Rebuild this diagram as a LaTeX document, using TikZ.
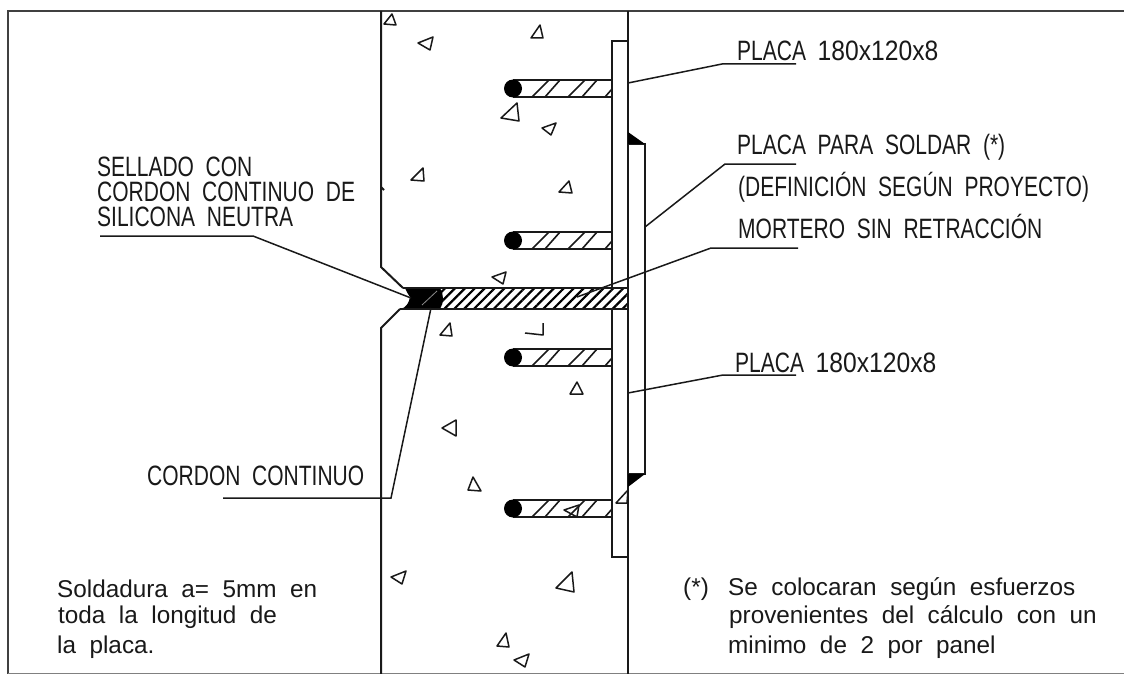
\documentclass[tikz,border=0pt]{standalone}
\usepackage{fontspec}
\usepackage{tikz}
\usetikzlibrary{patterns.meta}
\newfontfamily\capsfont[FakeStretch=0.75]{Liberation Sans}
\newfontfamily\digitfont[FakeStretch=0.88]{Liberation Sans}
\newfontfamily\notefont{Liberation Sans}
\tikzset{
	wall/.style={line width=2pt, black!90},
	border/.style={line width=1.4pt, black!75},
	leader/.style={line width=1.5pt, black!90},
	rubble/.style={line width=1.5pt, black!90, line join=round},
	stud/.style={line width=1.6pt, black!90},
	caps/.style={anchor=base west, inner sep=0pt, font=\capsfont\fontsize{28}{25}\selectfont, black!90},
	note/.style={anchor=base west, inner sep=0pt, font=\notefont\fontsize{24.3}{24.3}\selectfont, black!90},
}

\begin{document}
\begin{tikzpicture}[x=1pt, y=-1pt]
	\useasboundingbox (0,0) rectangle (1124,674);
	\fill[white] (0,0) rectangle (1124,674);

	% Frame
	\draw[border] (1124,11) -- (8,11) -- (8,674);
	\draw[line width=0.8pt, black!50] (8,673.5) -- (1124,673.5);

	% Joint filling
	\fill[pattern={Lines[angle=45, distance=7pt, line width=2.2pt]}, pattern color=black] (438,288) rectangle (628,309);
	\fill[black] (405,288) -- (440,288) .. controls (444,294) and (444,303) .. (440,309) -- (400,309)
		.. controls (406,308) and (409,303) .. (410,297) .. controls (408,294) and (406,291) .. (405,288);
	\draw[black!45, line width=0.8pt] (422,305) -- (437,291);
	\draw[wall] (403,288) -- (628,288);
	\draw[wall] (400,309) -- (628,309);

	% Wall faces
	\draw[wall] (381,11) -- (381,267) -- (403,288);
	\draw[wall] (400,309) -- (381,328) -- (381,674);
	\draw[wall] (628,11) -- (628,674);
	\draw[wall] (381,187) -- (384,190);

	% Anchor plate
	\draw[wall] (612,288) -- (612,41) -- (628,41);
	\draw[wall] (612,309) -- (612,557) -- (628,557);

	% Welded plate
	\draw[wall] (628,144) -- (645,144) -- (645,474) -- (628,474);
	\fill[black] (628,132) -- (645,144) -- (628,144) -- cycle;
	\fill[black] (628,474) -- (645,474) -- (628,487) -- cycle;

	% Stud 1
	\draw[stud] (513,80) -- (612,80);
	\draw[stud] (513,97) -- (612,97);
	\fill[black] (513,88.5) circle (9);
	\draw[stud] (532,97) -- (549,80) (545,97) -- (560,80) (568,97) -- (585,80) (582,97) -- (597,80) (605,97) -- (612,89);

	% Stud 2
	\draw[stud] (513,232) -- (612,232);
	\draw[stud] (513,249) -- (612,249);
	\fill[black] (513,240.5) circle (9);
	\draw[stud] (532,249) -- (549,232) (545,249) -- (560,232) (568,249) -- (585,232) (582,249) -- (597,232) (605,249) -- (612,241);

	% Stud 3
	\draw[stud] (513,349) -- (612,349);
	\draw[stud] (513,366) -- (612,366);
	\fill[black] (513,357.5) circle (9);
	\draw[stud] (532,366) -- (549,349) (545,366) -- (560,349) (568,366) -- (585,349) (582,366) -- (597,349) (605,366) -- (612,358);

	% Stud 4
	\draw[stud] (513,500) -- (612,500);
	\draw[stud] (513,517) -- (612,517);
	\fill[black] (513,508.5) circle (9);
	\draw[stud] (532,517) -- (549,500) (545,517) -- (560,500) (568,517) -- (585,500) (582,517) -- (597,500) (605,517) -- (612,509);

	% Aggregate
	\draw[rubble] (392,14) -- (396,25) -- (384,24) -- cycle;
	\draw[rubble] (418,43) -- (433,37) -- (430,50) -- cycle;
	\draw[rubble] (540,25) -- (543,38) -- (531,38) -- cycle;
	\draw[rubble] (517,103) -- (519,121) -- (501,118) -- cycle;
	\draw[rubble] (556,123) -- (551,135) -- (542,128) -- cycle;
	\draw[rubble] (569,181) -- (572,193) -- (559,192) -- cycle;
	\draw[rubble] (423,168) -- (424,181) -- (411,180) -- cycle;
	\draw[rubble] (506,272) -- (503,284) -- (492,277) -- cycle;
	\draw[rubble] (450,323) -- (452,336) -- (440,335) -- cycle;
	\draw[rubble] (525,333) -- (543,335) -- (543,323);
	\draw[rubble] (577,382) -- (583,394) -- (570,394) -- cycle;
	\draw[rubble] (456,420) -- (456,436) -- (442,428) -- cycle;
	\draw[rubble] (473,477) -- (481,491) -- (468,490) -- cycle;
	\draw[rubble] (579,505) -- (577,517) -- (564,510) -- cycle;
	\draw[rubble] (628,490) -- (627,503) -- (616,503) -- cycle;
	\draw[rubble] (406,571) -- (402,584) -- (391,577) -- cycle;
	\draw[rubble] (572,572) -- (574,592) -- (556,588) -- cycle;
	\draw[rubble] (506,633) -- (509,647) -- (497,646) -- cycle;
	\draw[rubble] (529,654) -- (525,667) -- (514,660) -- cycle;

	% Labels, right side
	\node[caps] (placaUp) at (737,61) {PLACA\ \ {\digitfont 180x120x8}};
	\node[caps] (soldar) at (737,154) {PLACA\ \ PARA\ \ SOLDAR\ \ (*)};
	\node[caps] (definicion) at (738,196) {(DEFINICIÓN\ \ SEGÚN\ \ PROYECTO)};
	\node[caps] (mortero) at (738,238) {MORTERO\ \ SIN\ \ RETRACCIÓN};
	\node[caps] (placaLow) at (735,372) {PLACA\ \ {\digitfont 180x120x8}};

	% Labels, left side
	\node[caps, anchor=north west, align=left] (sellado) at (97,156.5) {SELLADO\ \ CON\\CORDON\ \ CONTINUO\ \ DE\\SILICONA\ \ NEUTRA};
	\node[caps] (cordon) at (147,485) {CORDON\ \ CONTINUO};

	% Notes
	\node[note] (noteA) at (57,597) {Soldadura\ \ a=\ \ 5mm\ \ en};
	\node[note] (noteB) at (58,623) {toda\ \ la\ \ longitud\ \ de};
	\node[note] (noteC) at (57,653) {la\ \ placa.};
	\node[note] (star) at (683,595) {(*)};
	\node[note] (noteD) at (728,595) {Se\ \ colocaran\ \ según\ \ esfuerzos};
	\node[note] (noteE) at (729,623) {provenientes\ \ del\ \ cálculo\ \ con\ \ un};
	\node[note] (noteF) at (728,653) {minimo\ \ de\ \ 2\ \ por\ \ panel};

	% Leaders
	\coordinate (placaUpA) at (796,64);
	\coordinate (placaUpB) at (722,64);
	\coordinate (placaUpC) at (628,83);
	\draw[leader] (placaUpA) -- (placaUpB) -- (placaUpC);

	\coordinate (soldarA) at (796,164);
	\coordinate (soldarB) at (725,164);
	\coordinate (soldarC) at (645,227);
	\draw[leader] (soldarA) -- (soldarB) -- (soldarC);

	\coordinate (morteroA) at (798,248);
	\coordinate (morteroB) at (711,248);
	\coordinate (morteroC) at (577,297);
	\draw[leader] (morteroA) -- (morteroB) -- (morteroC);

	\coordinate (placaLowA) at (796,375);
	\coordinate (placaLowB) at (723,375);
	\coordinate (placaLowC) at (628,393);
	\draw[leader] (placaLowA) -- (placaLowB) -- (placaLowC);

	\coordinate (selladoA) at (100,236);
	\coordinate (selladoB) at (253,236);
	\coordinate (selladoC) at (411,298);
	\draw[leader] (selladoA) -- (selladoB) -- (selladoC);

	\coordinate (cordonA) at (223,498);
	\coordinate (cordonB) at (391,498);
	\coordinate (cordonC) at (431,308);
	\draw[leader] (cordonA) -- (cordonB) -- (cordonC);
\end{tikzpicture}
\end{document}
